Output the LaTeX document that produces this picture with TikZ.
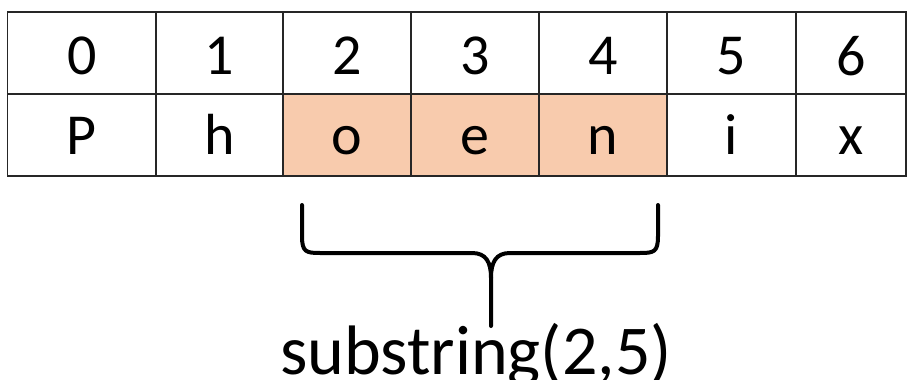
\documentclass[tikz,border=0pt]{standalone}
\usepackage{fontspec}
\setmainfont{Carlito}
\definecolor{peach}{HTML}{F8CBAD}
\begin{document}
\begin{tikzpicture}[x=1pt,y=-1pt,
  cell/.style={draw=black!85, line width=1.3pt, inner sep=0pt},
  hl/.style={fill=peach},
  txt/.style={inner sep=0pt, font=\fontsize{58}{60}\selectfont},
  bracepath/.style={draw=black, line width=4pt, line cap=round, line join=round},
  lbl/.style={font=\fontsize{70}{74}\selectfont, inner sep=0pt}]
\useasboundingbox (0,0) rectangle (910,380);
\def\rowA{12}\def\rowB{94}\def\rowC{176}
\foreach \i/\xa/\xb/\t/\c/\h in {0/7.5/156/0/P/,1/156/283/1/h/,2/283/411/2/o/hl,3/411/539/3/e/hl,4/539/667/4/n/hl,5/667/796/5/i/,6/796/906/6/x/}{
  \path[cell] (\xa,\rowA) rectangle (\xb,\rowB);
  \node[txt] (idx\i) at ({(\xa+\xb)/2},{(\rowA+\rowB)/2+3}) {\t};
  \path[cell,\h] (\xa,\rowB) rectangle (\xb,\rowC);
  \node[txt, anchor=base] (ch\i) at ({(\xa+\xb)/2},{\rowC-22}) {\strut\c};
}
% brace
\coordinate (bl) at (302,205);
\coordinate (br) at (658,205);
\coordinate (bt) at (491,326);
\path[bracepath] (bl) -- (302,236) .. controls (302,252) and (306,253) .. (320,253)
  -- (472,253) .. controls (486,253) and (491,262) .. (491,278) -- (bt);
\path[bracepath] (br) -- (658,236) .. controls (658,252) and (654,253) .. (640,253)
  -- (510,253) .. controls (496,253) and (491,262) .. (491,278);
\node[lbl, anchor=base] (sub) at (476,374) {substring(2,5)};
\end{tikzpicture}
\end{document}
